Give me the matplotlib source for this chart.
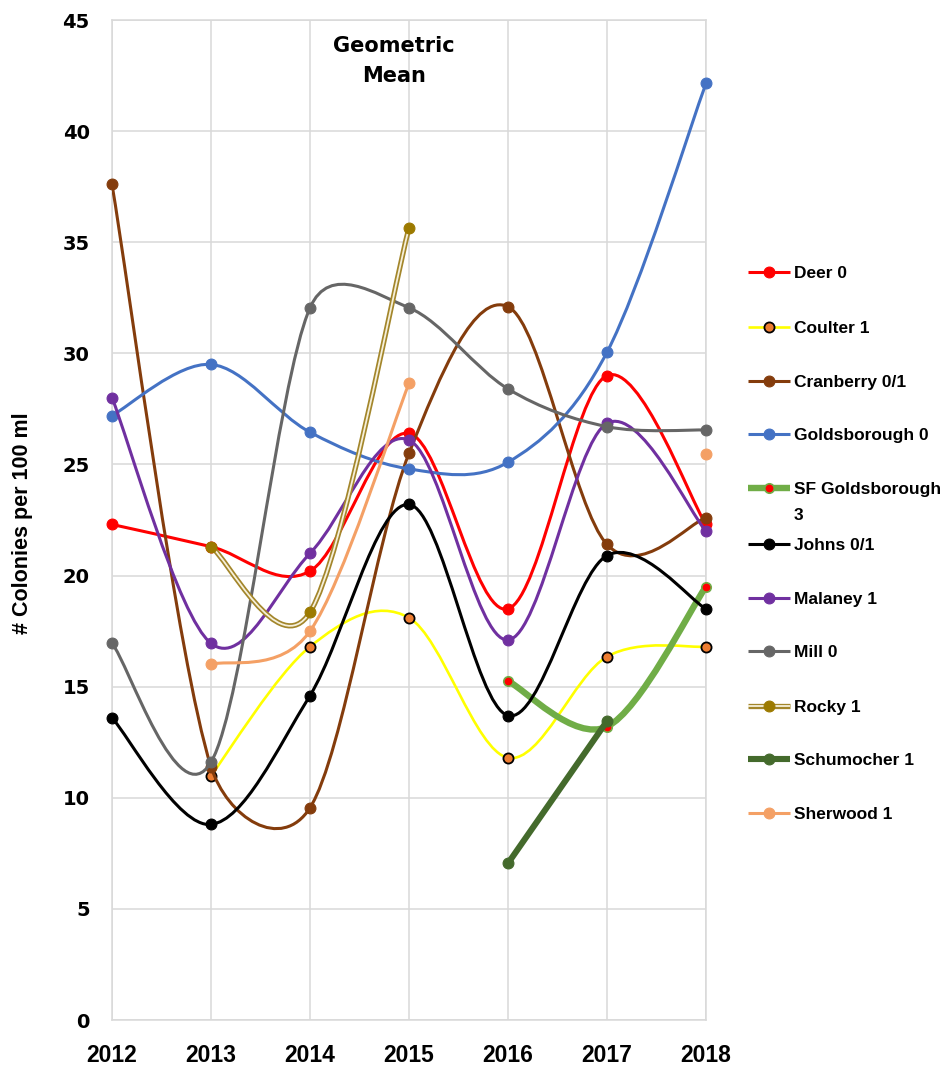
import numpy as np
import matplotlib
matplotlib.use("Agg")
import matplotlib.pyplot as plt
from matplotlib.path import Path
from matplotlib.patches import PathPatch
from matplotlib.lines import Line2D

nan = np.nan
years = [2012, 2013, 2014, 2015, 2016, 2017, 2018]
y_ticks = [0, 5, 10, 15, 20, 25, 30, 35, 40, 45]

deer = [22.3, 21.3, 20.2, 26.4, 18.5, 29.0, 22.3]
coulter = [nan, 11.0, 16.8, 18.1, 11.8, 16.35, 16.8]
cranberry = [37.6, 11.4, 9.55, 25.5, 32.1, 21.4, 22.6]
goldsborough = [27.2, 29.5, 26.45, 24.8, 25.1, 30.05, 42.15]
sf_goldsborough = [nan, nan, nan, nan, 15.25, 13.2, 19.5]
johns = [13.6, 8.8, 14.6, 23.2, 13.7, 20.9, 18.5]
malaney = [28.0, 16.95, 21.0, 26.1, 17.1, 26.85, 22.0]
mill = [16.95, 11.6, 32.05, 32.05, 28.4, 26.7, 26.55]
rocky = [nan, 21.3, 18.35, 35.65, nan, nan, nan]
schumocher = [nan, nan, nan, nan, 7.05, 13.45, nan]
sherwood = [nan, 16.0, 17.5, 28.65, nan, nan, 25.45]

labels = ["Deer 0", "Coulter 1", "Cranberry 0/1", "Goldsborough 0",
          "SF Goldsborough\n3", "Johns 0/1", "Malaney 1", "Mill 0",
          "Rocky 1", "Schumocher 1", "Sherwood 1"]
series = [deer, coulter, cranberry, goldsborough, sf_goldsborough, johns,
          malaney, mill, rocky, schumocher, sherwood]

styles = [
    dict(lc="#FF0000", lw=2.2, mfc="#FF0000", mec="#FF0000", ms=7.8, mew=0.8),
    dict(lc="#FFFF00", lw=1.9, mfc="#ED7D31", mec="#000000", ms=7.3, mew=1.3),
    dict(lc="#843C0C", lw=2.2, mfc="#843C0C", mec="#843C0C", ms=7.8, mew=0.8),
    dict(lc="#4472C4", lw=2.2, mfc="#4472C4", mec="#4472C4", ms=7.8, mew=0.8),
    dict(lc="#70AD47", lw=4.6, mfc="#FF0000", mec="#70AD47", ms=6.8, mew=1.2),
    dict(lc="#000000", lw=2.2, mfc="#000000", mec="#000000", ms=7.8, mew=0.8),
    dict(lc="#7030A0", lw=2.2, mfc="#7030A0", mec="#7030A0", ms=7.8, mew=0.8),
    dict(lc="#666666", lw=2.2, mfc="#666666", mec="#666666", ms=7.8, mew=0.8),
    dict(lc="#A3862B", lw=3.8, mfc="#9C7A00", mec="#9C7A00", ms=7.8, mew=0.8, double=True),
    dict(lc="#446A2C", lw=4.4, mfc="#446A2C", mec="#446A2C", ms=7.8, mew=0.8),
    dict(lc="#F4A065", lw=2.2, mfc="#F4A065", mec="#F4A065", ms=7.8, mew=0.8),
]

W, H = 943, 1066
fig = plt.figure(figsize=(W / 100, H / 100), dpi=100)
L, R, T, B = 112, 706, 20, 1020
ax = fig.add_axes([L / W, 1 - B / H, (R - L) / W, (B - T) / H])
ax.set_xlim(2012, 2018)
ax.set_ylim(0, 45)
ax.set_xticks(years)
ax.set_yticks(y_ticks)
ax.grid(True, color="#D9D9D9", lw=1.1)
ax.set_axisbelow(True)
for s in ax.spines.values():
    s.set_color("#D9D9D9")
    s.set_linewidth(1.1)
ax.tick_params(length=0)
ax.tick_params(axis="y", pad=16)
ax.tick_params(axis="x", pad=17)
for t in ax.get_yticklabels():
    t.set_fontfamily("DejaVu Sans"); t.set_fontweight("bold"); t.set_fontsize(14)
for t in ax.get_xticklabels():
    t.set_fontfamily("Liberation Sans"); t.set_fontweight("bold"); t.set_fontsize(16.5)


def smooth_path(xs, ys, f=1.0 / 6.0):
    pts = ax.transData.transform(np.column_stack([xs, ys]))
    n = len(pts)
    verts = [pts[0]]
    codes = [Path.MOVETO]
    for i in range(n - 1):
        p0 = pts[i - 1] if i > 0 else pts[i]
        p1 = pts[i]
        p2 = pts[i + 1]
        p3 = pts[i + 2] if i + 2 < n else pts[i + 1]
        seg = np.hypot(*(p2 - p1))
        t1 = f * (p2 - p0)
        t2 = f * (p3 - p1)
        out = []
        for tv in (t1, t2):
            ln = np.hypot(*tv)
            if ln > seg / 2 and ln > 0:
                tv = tv * (seg / 2) / ln
            out.append(tv)
        verts += [p1 + out[0], p2 - out[1], p2]
        codes += [Path.CURVE4] * 3
    dv = ax.transData.inverted().transform(np.array(verts))
    return Path(dv, codes)


def runs(vals):
    res, cur = [], []
    for x, v in zip(years, vals):
        if np.isnan(v):
            if cur:
                res.append(cur)
            cur = []
        else:
            cur.append((x, v))
    if cur:
        res.append(cur)
    return res


for k, (vals, st) in enumerate(zip(series, styles)):
    z = 3 + k * 0.1
    for run in runs(vals):
        xs = [p[0] for p in run]
        ys = [p[1] for p in run]
        if len(run) > 1:
            path = smooth_path(xs, ys)
            ax.add_patch(PathPatch(path, fill=False, ec=st["lc"], lw=st["lw"],
                                   capstyle="round", joinstyle="round", zorder=z))
            if st.get("double"):
                ax.add_patch(PathPatch(path, fill=False, ec="#F6F0DA", lw=1.3,
                                       capstyle="round", joinstyle="round", zorder=z + 0.01))
        ax.plot(xs, ys, ls="none", marker="o", ms=st["ms"], mfc=st["mfc"],
                mec=st["mec"], mew=st["mew"], clip_on=False, zorder=z + 0.02)

ax.text(2014.85, 44.3, "Geometric\nMean", ha="center", va="top", fontsize=15,
        fontweight="bold", family="DejaVu Sans", linespacing=1.65, zorder=10)

fig.text(23 / W, 1 - 523 / H, "# Colonies per 100 ml", rotation=90, ha="center",
         va="center", fontsize=15.5, fontweight="bold", family="Liberation Sans")

leg_y = [272, 327, 381, 434, 488, 544, 598, 651, 706, 759, 813]
for lab, st, yy in zip(labels, styles, leg_y):
    fy = 1 - yy / H
    fig.add_artist(Line2D([748 / W, 790 / W], [fy, fy], transform=fig.transFigure,
                          color=st["lc"], lw=st["lw"], solid_capstyle="butt"))
    if st.get("double"):
        fig.add_artist(Line2D([748 / W, 790 / W], [fy, fy], transform=fig.transFigure,
                              color="#F6F0DA", lw=1.3, solid_capstyle="butt"))
    fig.add_artist(Line2D([769 / W], [fy], transform=fig.transFigure, ls="none",
                          marker="o", ms=st["ms"], mfc=st["mfc"], mec=st["mec"],
                          mew=st["mew"]))
    for j, p in enumerate(lab.split("\n")):
        fig.text(794 / W, 1 - (yy + 26 * j) / H, p, ha="left", va="center_baseline",
                 fontsize=12.5, fontweight="bold", family="Liberation Sans")

fig.savefig("out.png", dpi=100)
